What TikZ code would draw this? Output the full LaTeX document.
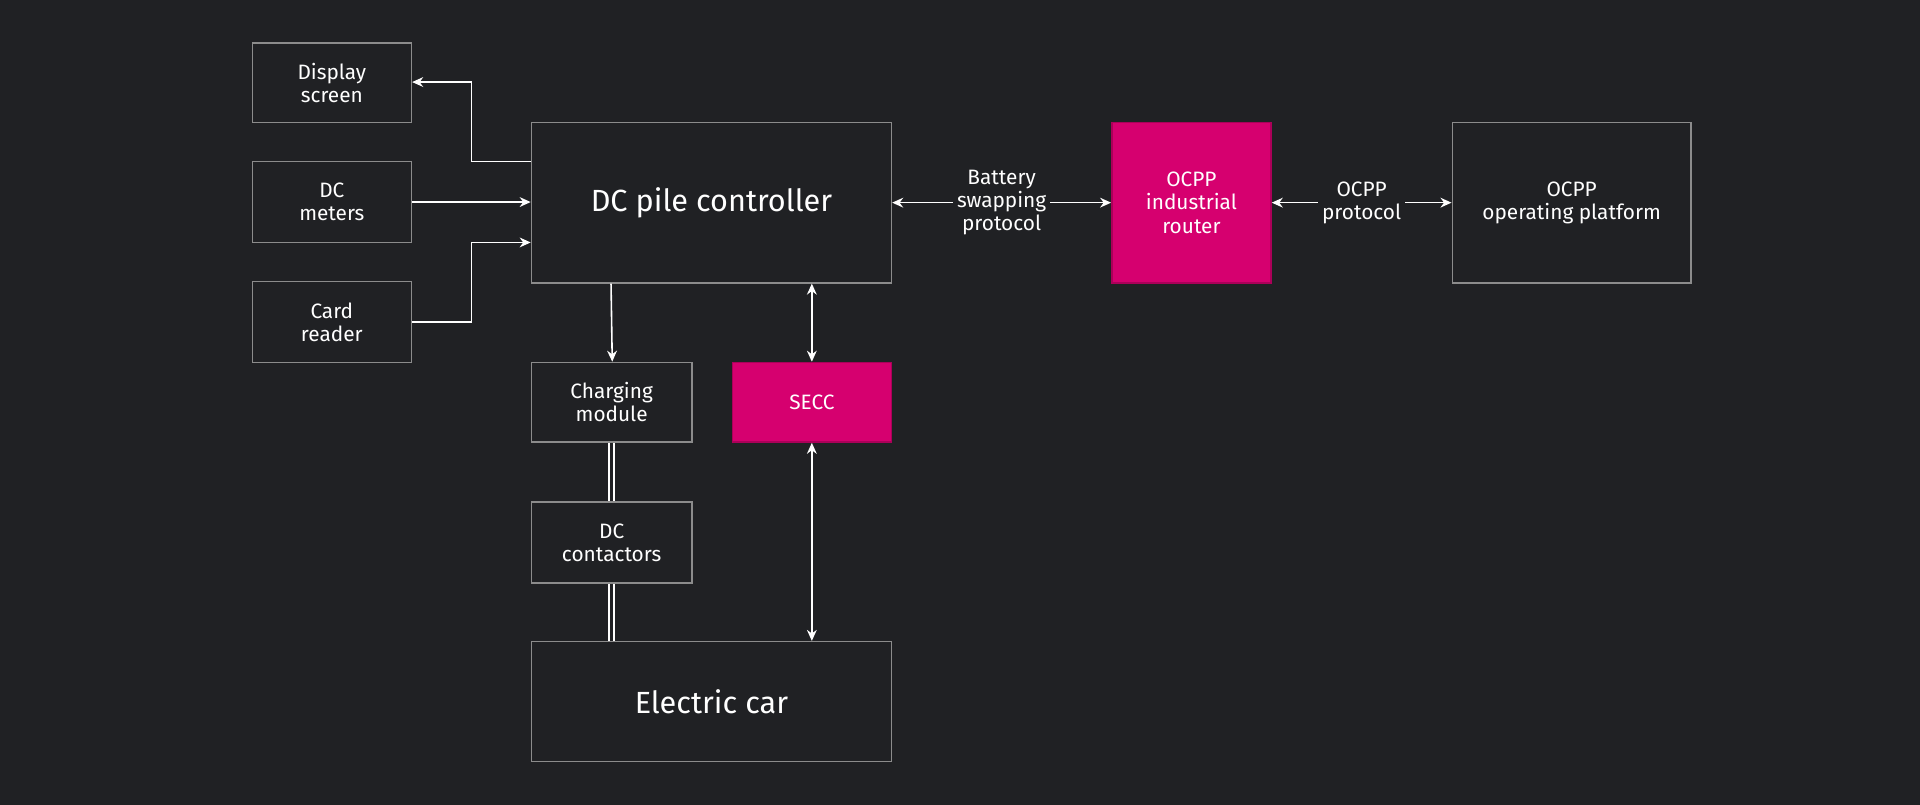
\documentclass[tikz,border=0pt]{standalone}
\usepackage{fontspec}
\setmainfont{Fira Sans}
\usetikzlibrary{arrows.meta}
\definecolor{bg}{HTML}{202124}
\definecolor{bd}{HTML}{8C8C8C}
\definecolor{mag}{HTML}{D6006F}
\begin{document}
\begin{tikzpicture}[x=1pt,y=-1pt,
  box/.style={draw=bd,line width=1.2pt,text=white,align=center,font=\fontsize{17}{19}\selectfont,inner sep=0},
  mbox/.style={box,fill=mag,draw=mag!80!black},
  ar/.style={draw=white,line width=1.3pt,-{Stealth[length=9pt,width=8pt]}},
  dar/.style={draw=white,line width=1.3pt,{Stealth[length=9pt,width=8pt]}-{Stealth[length=9pt,width=8pt]}},
  lab/.style={fill=bg,text=white,align=center,font=\fontsize{17}{19}\selectfont,inner sep=3pt}]
\fill[bg] (0,0) rectangle (1568,657);
\useasboundingbox (0,0) rectangle (1568,657);
\node[box,minimum width=130,minimum height=65] (disp) at (271,67.5) {Display\\screen};
\node[box,minimum width=130,minimum height=66] (dcm) at (271,165) {DC\\meters};
\node[box,minimum width=130,minimum height=66] (card) at (271,263) {Card\\reader};
\node[box,minimum width=294,minimum height=131,font=\fontsize{25}{28}\selectfont] (ctrl) at (581,165.5) {DC pile controller};
\node[box,minimum width=131,minimum height=65] (chg) at (499.5,328.5) {Charging\\module};
\node[mbox,minimum width=130,minimum height=65] (secc) at (663,328.5) {SECC};
\node[box,minimum width=131,minimum height=66] (cont) at (499.5,443) {DC\\contactors};
\node[box,minimum width=294,minimum height=98,font=\fontsize{25}{28}\selectfont] (car) at (581,573) {Electric car};
\node[mbox,minimum width=130,minimum height=131] (rtr) at (973,165.5) {OCPP\\industrial\\router};
\node[box,minimum width=195,minimum height=131] (plat) at (1283.5,165.5) {OCPP\\operating platform};
\draw[ar] (ctrl.west |- 0,132) -- (385,132) -- (385,67) -- (disp.east |- 0,67);
\draw[ar] (dcm.east) -- (ctrl.west |- dcm.east);
\draw[ar] (card.east) -- (385,263) -- (385,198) -- (ctrl.west |- 0,198);
\draw[ar] (ctrl.south -| 499,0) -- (chg.north -| 500,0);
\draw[dar] (ctrl.south -| 663,0) -- (secc.north);
\draw[dar] (secc.south) -- (car.north -| 663,0);
\draw[white,line width=1.2pt,double=bg,double distance=3pt] (chg.south) -- (cont.north);
\draw[white,line width=1.2pt,double=bg,double distance=3pt] (cont.south) -- (car.north -| cont.south);
\draw[dar] (ctrl.east) -- (rtr.west) node[midway,lab] {Battery\\swapping\\protocol};
\draw[dar] (rtr.east) -- (plat.west) node[midway,lab] {OCPP\\protocol};
\end{tikzpicture}
\end{document}
